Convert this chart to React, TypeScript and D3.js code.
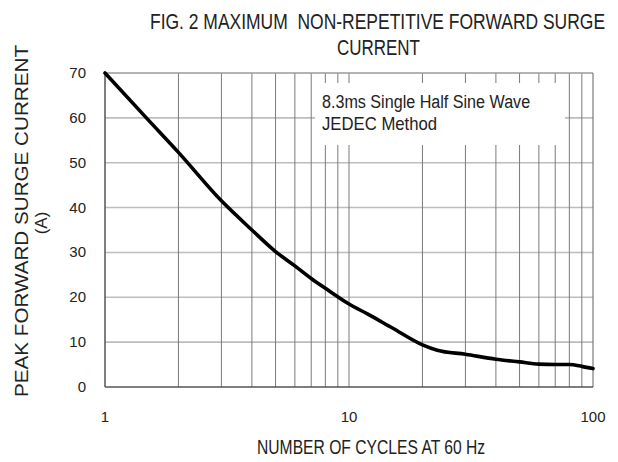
import { useLayoutEffect, useRef, useState } from "react"
import * as d3 from "d3"

// curve (cycles, peak surge current in A)
const cycles = [1, 1.5, 2, 3, 4, 5, 6, 7, 8, 10, 12, 15, 20, 23, 30, 40, 50, 60, 70, 80, 90, 100]
const current = [70, 59.6, 52.3, 41.5, 35, 30.2, 27, 24.2, 22, 18.5, 16.2, 13.2, 9.4, 8.2, 7.3, 6.2, 5.6, 5.1, 5.0, 5.0, 4.6, 4.1]

const yTicks = [0, 10, 20, 30, 40, 50, 60, 70]
const xLabels = [1, 10, 100]
const xMinor = [2, 3, 4, 5, 6, 7, 8, 9, 10, 20, 30, 40, 50, 60, 70, 80, 90]

const titleLines = ["FIG. 2 MAXIMUM  NON-REPETITIVE FORWARD SURGE", "CURRENT"]
const noteLines = ["8.3ms Single Half Sine Wave", "JEDEC Method"]

const sans = "'Liberation Sans', Arial, sans-serif"

// text squeezed horizontally to a target width (the source uses a narrow face)
function Narrow({ x, y, width, size, children }: { x: number; y: number; width: number; size: number; children: string }) {
  const ref = useRef<SVGTextElement>(null)
  const [k, setK] = useState(0.82)
  useLayoutEffect(() => {
    if (!ref.current) return
    const w = ref.current.getComputedTextLength()
    if (w > 0) setK(width / w)
  }, [width, children])
  return (
    <text
      ref={ref}
      transform={`translate(${x},${y}) scale(${k},1)`}
      fontFamily={sans}
      fontSize={size}
      fill="#222"
      style={{ whiteSpace: "pre" }}
    >
      {children}
    </text>
  )
}

export default function App() {
  const margin = { top: 73, right: 25, bottom: 75, left: 105 }
  const W = 618
  const H = 462

  const x = d3.scaleLog().domain([1, 100]).range([margin.left, W - margin.right])
  const y = d3.scaleLinear().domain([0, 70]).range([H - margin.bottom, margin.top])

  const data = cycles.map((c, i) => ({ c, v: current[i] }))
  const line = d3
    .line<{ c: number; v: number }>()
    .x((d) => x(d.c))
    .y((d) => y(d.v))
    .curve(d3.curveMonotoneX)

  const x0 = x(1)
  const x1 = x(100)
  const yTop = y(70)
  const yBot = y(0)

  // white box behind the note
  const box = { x: 315, y: 83, w: 250, h: 62 }

  return (
    <svg width={W} height={H} style={{ position: "fixed", left: 0, top: 0, background: "#fff" }}>
      <rect width={W} height={H} fill="#fff" />

      {/* horizontal grid */}
      {yTicks
        .filter((t) => t > 0 && t < 70)
        .map((t) => (
          <line key={"h" + t} x1={x0} x2={x1} y1={y(t)} y2={y(t)} stroke="#bdbdbd" strokeWidth={1.6} />
        ))}

      {/* vertical grid */}
      {xMinor.map((t) => (
        <line key={"v" + t} x1={x(t)} x2={x(t)} y1={yTop} y2={yBot} stroke="#7a7a7a" strokeWidth={1} />
      ))}

      {/* frame */}
      <line x1={x0} x2={x1} y1={yTop} y2={yTop} stroke="#9a9a9a" strokeWidth={1.5} />
      <line x1={x1} x2={x1} y1={yTop} y2={yBot} stroke="#7a7a7a" strokeWidth={1.2} />
      <line x1={x0} x2={x0} y1={yTop} y2={yBot} stroke="#555" strokeWidth={1.5} />
      <line x1={x0} x2={x1} y1={yBot} y2={yBot} stroke="#555" strokeWidth={1.5} />

      {/* note box */}
      <rect x={box.x} y={box.y} width={box.w} height={box.h} fill="#fff" />
      <Narrow x={322} y={108} width={208} size={18}>
        {noteLines[0]}
      </Narrow>
      <Narrow x={322} y={130} width={115} size={18}>
        {noteLines[1]}
      </Narrow>

      {/* curve */}
      <path d={line(data) ?? ""} fill="none" stroke="#000" strokeWidth={3.6} strokeLinejoin="round" strokeLinecap="round" />

      {/* y tick labels */}
      {yTicks.map((t) => (
        <text key={"yl" + t} x={86} y={y(t) + 5} textAnchor="end" fontFamily={sans} fontSize={15} fill="#222">
          {t}
        </text>
      ))}

      {/* x tick labels */}
      {xLabels.map((t) => (
        <text key={"xl" + t} x={x(t)} y={422} textAnchor="middle" fontFamily={sans} fontSize={15} fill="#222">
          {t}
        </text>
      ))}

      {/* title */}
      <Narrow x={150} y={28.5} width={455} size={22}>
        {titleLines[0]}
      </Narrow>
      <Narrow x={337} y={54.5} width={83} size={22}>
        {titleLines[1]}
      </Narrow>

      {/* axis titles */}
      <Narrow x={257} y={453.5} width={228} size={20}>
        NUMBER OF CYCLES AT 60 Hz
      </Narrow>
      <text
        transform="translate(28,221) rotate(-90)"
        textAnchor="middle"
        fontFamily={sans}
        fontSize={18}
        fill="#222"
        textLength={352}
        lengthAdjust="spacingAndGlyphs"
      >
        PEAK FORWARD SURGE CURRENT
      </text>
      <text transform="translate(47,223) rotate(-90)" textAnchor="middle" fontFamily={sans} fontSize={17} fill="#222">
        (A)
      </text>
    </svg>
  )
}
